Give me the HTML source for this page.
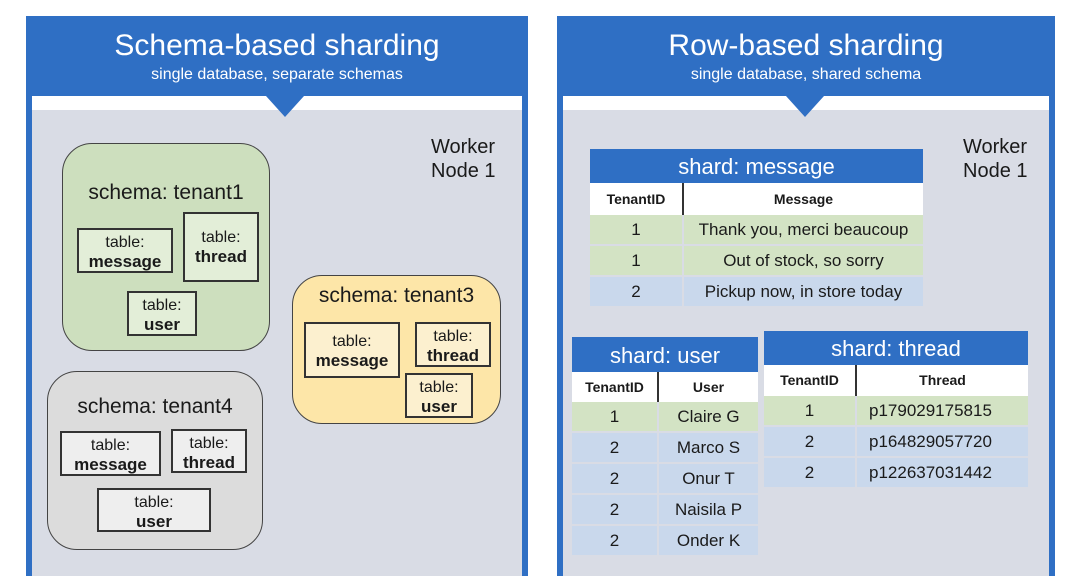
<!DOCTYPE html>
<html><head><meta charset="utf-8"><style>
*{margin:0;padding:0;box-sizing:border-box}
body{width:1080px;height:561px;background:#fff;position:relative;overflow:hidden;font-family:"Liberation Sans",sans-serif;color:#1a1a1a}
.panel{position:absolute;top:16px;height:560px;background:#2f6fc4}
.inner{position:absolute;left:6px;right:6px;top:80px;bottom:0;background:#d9dce5;border-top:14px solid #fff}
.tri{position:absolute;width:0;height:0;border-left:19px solid transparent;border-right:19px solid transparent;border-top:21px solid #2f6fc4}
.title{position:absolute;left:0;right:0;text-align:center;color:#fff}
.schema{position:absolute;border:1.5px solid #444;border-radius:30px}
.st{position:absolute;left:0;right:0;text-align:center;font-size:21px}
.tb{position:absolute;border:2px solid #333;text-align:center;font-size:16px;line-height:19px;padding-top:3px}
.tb b{display:block;font-size:17px}
.wn{position:absolute;font-size:20px;line-height:24px}
.hd{position:absolute;background:#2f6fc4;color:#fff;text-align:center;font-size:22px}
.cell{position:absolute;text-align:center;font-size:17px}
.g{background:#d3e3c4}.bl{background:#c9d8ec}.w{background:#fff}
</style></head><body>

<div class="panel" style="left:26px;width:502px">
 <div class="title" style="top:13px;font-size:30px">Schema-based sharding</div>
 <div class="title" style="top:50px;font-size:16px">single database, separate schemas</div>
 <div class="inner"></div>
</div>
<div class="tri" style="left:266px;top:96px"></div>

<div class="panel" style="left:557px;width:498px">
 <div class="title" style="top:13px;font-size:30px">Row-based sharding</div>
 <div class="title" style="top:50px;font-size:16px">single database, shared schema</div>
 <div class="inner"></div>
</div>
<div class="tri" style="left:786px;top:96px"></div>

<div class="wn" style="left:431px;top:135px">Worker<br>Node 1</div>
<div class="wn" style="left:963px;top:135px">Worker<br>Node 1</div>

<!-- tenant1 -->
<div class="schema" style="left:62px;top:143px;width:208px;height:208px;background:#cddfbe">
 <div class="st" style="top:37px">schema: tenant1</div>
</div>
<div class="tb" style="left:77px;top:228px;width:96px;height:45px;background:#e3eed8">table:<b>message</b></div>
<div class="tb" style="left:183px;top:212px;width:76px;height:70px;background:#e3eed8;padding-top:14px">table:<b>thread</b></div>
<div class="tb" style="left:127px;top:291px;width:70px;height:45px;background:#e3eed8">table:<b>user</b></div>

<!-- tenant3 -->
<div class="schema" style="left:292px;top:275px;width:209px;height:149px;background:#fde6a8">
 <div class="st" style="top:8px">schema: tenant3</div>
</div>
<div class="tb" style="left:304px;top:322px;width:96px;height:56px;background:#fcf0cf;padding-top:8px">table:<b>message</b></div>
<div class="tb" style="left:415px;top:322px;width:76px;height:45px;background:#fcf0cf">table:<b>thread</b></div>
<div class="tb" style="left:405px;top:373px;width:68px;height:45px;background:#fcf0cf">table:<b>user</b></div>

<!-- tenant4 -->
<div class="schema" style="left:47px;top:371px;width:216px;height:179px;background:#dcdcdc">
 <div class="st" style="top:23px">schema: tenant4</div>
</div>
<div class="tb" style="left:60px;top:431px;width:101px;height:45px;background:#eeeeee">table:<b>message</b></div>
<div class="tb" style="left:171px;top:429px;width:76px;height:44px;background:#eeeeee">table:<b>thread</b></div>
<div class="tb" style="left:97px;top:488px;width:114px;height:44px;background:#eeeeee">table:<b>user</b></div>

<!-- shard message -->
<div class="hd" style="left:590px;top:149px;width:333px;height:34px;line-height:36px">shard: message</div>
<div class="cell w" style="left:590px;top:183px;width:92px;height:32px;line-height:32px;font-size:14px;font-weight:bold">TenantID</div>
<div class="cell w" style="left:682px;top:183px;width:241px;height:32px;line-height:32px;font-size:14px;font-weight:bold;border-left:2px solid #333">Message</div>
<div class="cell g" style="left:590px;top:215px;width:92px;height:29px;line-height:29px">1</div>
<div class="cell g" style="left:684px;top:215px;width:239px;height:29px;line-height:29px">Thank you, merci beaucoup</div>
<div class="cell g" style="left:590px;top:246px;width:92px;height:29px;line-height:29px">1</div>
<div class="cell g" style="left:684px;top:246px;width:239px;height:29px;line-height:29px">Out of stock, so sorry</div>
<div class="cell bl" style="left:590px;top:277px;width:92px;height:29px;line-height:29px">2</div>
<div class="cell bl" style="left:684px;top:277px;width:239px;height:29px;line-height:29px">Pickup now, in store today</div>

<!-- shard user -->
<div class="hd" style="left:572px;top:337px;width:186px;height:35px;line-height:38px">shard: user</div>
<div class="cell w" style="left:572px;top:372px;width:85px;height:30px;line-height:30px;font-size:14px;font-weight:bold">TenantID</div>
<div class="cell w" style="left:657px;top:372px;width:101px;height:30px;line-height:30px;font-size:14px;font-weight:bold;border-left:2px solid #333">User</div>
<div class="cell g" style="left:572px;top:402px;width:85px;height:29px;line-height:29px">1</div>
<div class="cell g" style="left:659px;top:402px;width:99px;height:29px;line-height:29px">Claire G</div>
<div class="cell bl" style="left:572px;top:433px;width:85px;height:29px;line-height:29px">2</div>
<div class="cell bl" style="left:659px;top:433px;width:99px;height:29px;line-height:29px">Marco S</div>
<div class="cell bl" style="left:572px;top:464px;width:85px;height:29px;line-height:29px">2</div>
<div class="cell bl" style="left:659px;top:464px;width:99px;height:29px;line-height:29px">Onur T</div>
<div class="cell bl" style="left:572px;top:495px;width:85px;height:29px;line-height:29px">2</div>
<div class="cell bl" style="left:659px;top:495px;width:99px;height:29px;line-height:29px">Naisila P</div>
<div class="cell bl" style="left:572px;top:526px;width:85px;height:29px;line-height:29px">2</div>
<div class="cell bl" style="left:659px;top:526px;width:99px;height:29px;line-height:29px">Onder K</div>

<!-- shard thread -->
<div class="hd" style="left:764px;top:331px;width:264px;height:34px;line-height:36px">shard: thread</div>
<div class="cell w" style="left:764px;top:365px;width:91px;height:31px;line-height:31px;font-size:14px;font-weight:bold">TenantID</div>
<div class="cell w" style="left:855px;top:365px;width:173px;height:31px;line-height:31px;font-size:14px;font-weight:bold;border-left:2px solid #333">Thread</div>
<div class="cell g" style="left:764px;top:396px;width:91px;height:29px;line-height:29px">1</div>
<div class="cell g" style="left:857px;top:396px;width:171px;height:29px;line-height:29px;text-align:left;padding-left:12px">p179029175815</div>
<div class="cell bl" style="left:764px;top:427px;width:91px;height:29px;line-height:29px">2</div>
<div class="cell bl" style="left:857px;top:427px;width:171px;height:29px;line-height:29px;text-align:left;padding-left:12px">p164829057720</div>
<div class="cell bl" style="left:764px;top:458px;width:91px;height:29px;line-height:29px">2</div>
<div class="cell bl" style="left:857px;top:458px;width:171px;height:29px;line-height:29px;text-align:left;padding-left:12px">p122637031442</div>

</body></html>
